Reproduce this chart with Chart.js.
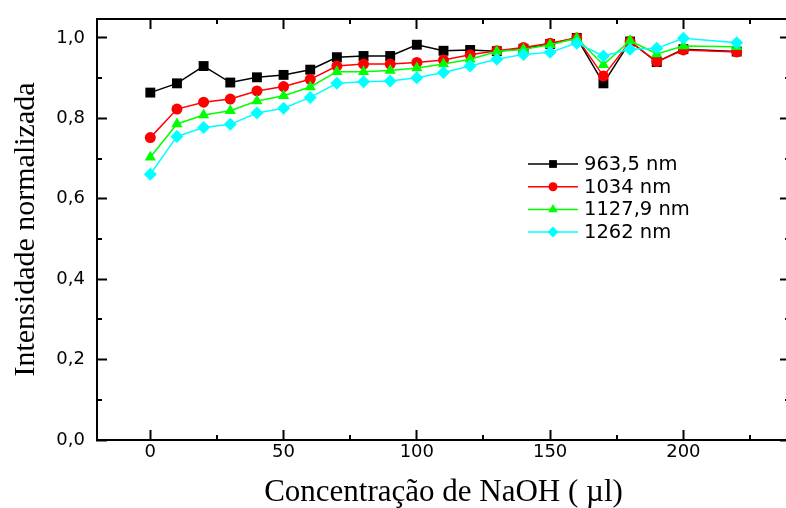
<!DOCTYPE html>
<html>
<head>
<meta charset="utf-8">
<script src="https://cdn.jsdelivr.net/npm/chart.js@4/dist/chart.umd.min.js"></script>
<style>
  html, body { margin: 0; padding: 0; background: #fff; overflow: hidden; }
  #wrap { width: 800px; height: 508px; }
</style>
</head>
<body>
<div id="wrap"><canvas id="naohChart" width="800" height="508"></canvas></div>
<script>
// NaOH volume (µl)
const naoh = [0, 10, 20, 30, 40, 50, 60, 70, 80, 90, 100, 110, 120, 130, 140, 150, 160, 170, 180, 190, 200, 220];

// normalised intensity for each wavelength
const int963 = [0.864, 0.887, 0.930, 0.889, 0.902, 0.908, 0.921, 0.952, 0.955, 0.955, 0.983, 0.968, 0.970, 0.967, 0.973, 0.985, 1.000, 0.887, 0.991, 0.940, 0.972, 0.966];
const int1034 = [0.752, 0.823, 0.840, 0.848, 0.868, 0.879, 0.897, 0.930, 0.935, 0.935, 0.939, 0.945, 0.958, 0.968, 0.976, 0.987, 1.000, 0.905, 0.991, 0.941, 0.970, 0.965];
const int1127 = [0.703, 0.786, 0.808, 0.819, 0.843, 0.856, 0.878, 0.916, 0.916, 0.919, 0.925, 0.935, 0.947, 0.966, 0.972, 0.983, 0.999, 0.933, 0.993, 0.960, 0.980, 0.978];
const int1262 = [0.661, 0.755, 0.777, 0.785, 0.813, 0.825, 0.852, 0.887, 0.891, 0.893, 0.901, 0.914, 0.930, 0.947, 0.959, 0.964, 0.987, 0.955, 0.972, 0.974, 0.999, 0.988];

const seriesLabels = ['963,5 nm', '1034 nm', '1127,9 nm', '1262 nm'];
const yTickLabels = ['0,0', '0,2', '0,4', '0,6', '0,8', '1,0'];
const xMinor = [25, 75, 125, 175, 225];
const yMinor = [0.1, 0.3, 0.5, 0.7, 0.9];

const pts = arr => arr.map((v, i) => ({ x: naoh[i], y: v }));

function series(label, values, color, style, radius, order) {
  return {
    label: label,
    data: pts(values),
    borderColor: color,
    backgroundColor: color,
    borderWidth: 1.5,
    pointStyle: style,
    pointRadius: radius,
    pointBorderWidth: 0,
    pointBackgroundColor: color,
    tension: 0,
    order: order
  };
}

// short inward ticks between the labelled ones, on all four sides
const minorTicks = {
  id: 'minorTicks',
  afterDraw(chart) {
    const ctx = chart.ctx;
    const a = chart.chartArea;
    const sx = chart.scales.x, sy = chart.scales.y;
    ctx.save();
    ctx.strokeStyle = '#000';
    ctx.lineWidth = 2;
    ctx.beginPath();
    xMinor.forEach(v => {
      const px = Math.round(sx.getPixelForValue(v));
      ctx.moveTo(px, a.bottom); ctx.lineTo(px, a.bottom - 5);
      ctx.moveTo(px, a.top); ctx.lineTo(px, a.top + 5);
    });
    yMinor.forEach(v => {
      const py = Math.round(sy.getPixelForValue(v));
      ctx.moveTo(a.left, py); ctx.lineTo(a.left + 5, py);
      ctx.moveTo(a.right, py); ctx.lineTo(a.right - 5, py);
    });
    ctx.stroke();
    ctx.restore();
  }
};

// legend inside the plot: line sample with marker, then label
const lineLegend = {
  id: 'lineLegend',
  afterDatasetsDraw(chart) {
    const ctx = chart.ctx;
    const x0 = 528, x1 = 578, tx = 584, y0 = 164, dy = 22.7;
    const sizes = [5.5, 4.5, 5.5, 5.5];
    ctx.save();
    chart.data.datasets.forEach((ds, i) => {
      const y = y0 + i * dy;
      ctx.strokeStyle = ds.borderColor;
      ctx.lineWidth = 1.5;
      ctx.beginPath();
      ctx.moveTo(x0, y); ctx.lineTo(x1, y);
      ctx.stroke();
      ctx.fillStyle = ds.borderColor;
      Chart.helpers.drawPoint(ctx, { pointStyle: ds.pointStyle, radius: sizes[i], borderWidth: 0, rotation: 0 }, (x0 + x1) / 2, y);
      ctx.fillStyle = '#000';
      ctx.font = '19.5px "DejaVu Sans"';
      ctx.textAlign = 'left';
      ctx.textBaseline = 'middle';
      ctx.fillText(ds.label, tx, y + 1);
    });
    ctx.restore();
  }
};

const tickFont = { family: 'DejaVu Sans', size: 18 };
const frame = () => ({ color: '#000', width: 2 });
const inward = () => ({ drawOnChartArea: false, tickLength: -10, tickWidth: 2, tickColor: '#000' });

// fixed axis boxes so the frame sits where it should
const fixBox = (w, h) => s => {
  if (w !== null) s.width = w;
  if (h !== null) s.height = h;
  s.paddingTop = 0; s.paddingBottom = 0; s.paddingLeft = 0; s.paddingRight = 0;
};

new Chart(document.getElementById('naohChart').getContext('2d'), {
  type: 'line',
  data: {
    datasets: [
      series(seriesLabels[0], int963, '#000000', 'rect', 7, 3),
      series(seriesLabels[1], int1034, '#ff0000', 'circle', 5.5, 2),
      series(seriesLabels[2], int1127, '#00ff00', 'triangle', 6.5, 1),
      series(seriesLabels[3], int1262, '#00ffff', 'rectRot', 6.5, 0)
    ]
  },
  options: {
    responsive: false,
    animation: false,
    devicePixelRatio: 1,
    layout: { padding: 0, autoPadding: false },
    plugins: { legend: { display: false }, tooltip: { enabled: false } },
    scales: {
      x: {
        type: 'linear', position: 'bottom', min: -20, max: 240,
        ticks: { stepSize: 50, includeBounds: false, padding: 12, color: '#000', font: tickFont },
        grid: inward(), border: frame(),
        title: { display: true, text: 'Concentração de NaOH ( µl)', color: '#000',
                 font: { family: 'Liberation Serif', size: 31, lineHeight: 1 }, padding: 0 },
        afterFit: fixBox(null, 68)
      },
      xTop: {
        type: 'linear', axis: 'x', position: 'top', min: -20, max: 240,
        ticks: { stepSize: 50, includeBounds: false, color: 'rgba(0,0,0,0)', font: tickFont },
        grid: inward(), border: frame(),
        afterFit: fixBox(null, 19)
      },
      y: {
        type: 'linear', position: 'left', min: 0, max: 1.047,
        ticks: { stepSize: 0.2, includeBounds: false, padding: 22, color: '#000', font: tickFont,
                 callback: (v, i) => yTickLabels[i] },
        grid: inward(), border: frame(),
        title: { display: true, text: 'Intensidade normalizada', color: '#000',
                 font: { family: 'Liberation Serif', size: 30, lineHeight: 1 }, padding: { top: 11, bottom: 0 } },
        afterFit: fixBox(97, null)
      },
      yRight: {
        type: 'linear', axis: 'y', position: 'right', min: 0, max: 1.047,
        ticks: { stepSize: 0.2, includeBounds: false, color: 'rgba(0,0,0,0)', font: tickFont },
        grid: inward(), border: frame(),
        afterFit: fixBox(10, null)
      }
    }
  },
  plugins: [minorTicks, lineLegend]
});
</script>
</body>
</html>
